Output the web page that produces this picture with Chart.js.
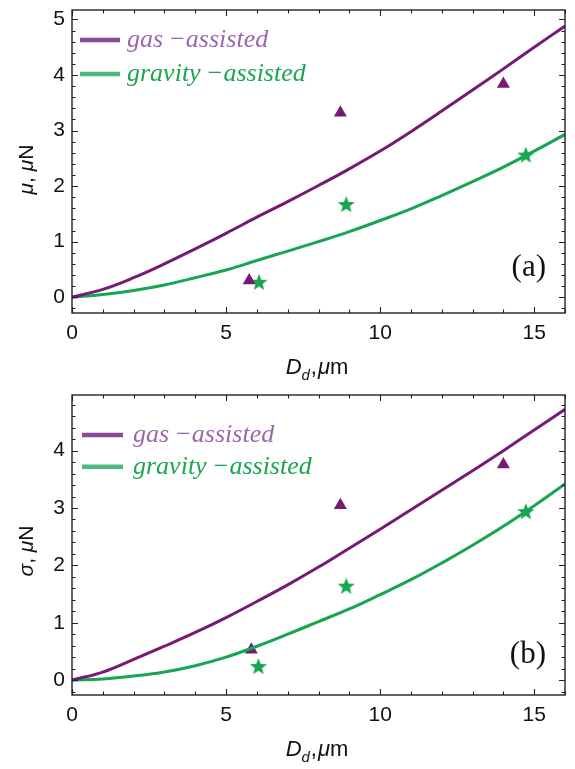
<!DOCTYPE html>
<html lang="en">
<head>
<meta charset="UTF-8">
<title>Forces vs droplet diameter</title>
<script src="https://cdn.jsdelivr.net/npm/chart.js"></script>
<style>
  body { margin: 0; background: #fff; }
  .panel { position: absolute; left: 0; width: 575px; }
  #panelA { top: 0; height: 385px; }
  #panelB { top: 385px; height: 384px; }
</style>
</head>
<body>
<div class="panel" id="panelA"><canvas id="chartA"></canvas></div>
<div class="panel" id="panelB"><canvas id="chartB"></canvas></div>
<script>
// D_d values where the fitted curves were read (um)
const curveX = [0, 1, 2, 3, 4, 5, 6, 7, 8, 9, 10, 11, 12, 13, 14, 15, 16];

// panel (a): mu, uN
const gasCurveA  = [0, 0.14, 0.35, 0.60, 0.87, 1.15, 1.44, 1.72, 2.01, 2.31, 2.63, 2.98, 3.35, 3.73, 4.11, 4.50, 4.88];
const gravCurveA = [0, 0.05, 0.12, 0.22, 0.35, 0.49, 0.66, 0.83, 1.00, 1.18, 1.38, 1.59, 1.83, 2.08, 2.34, 2.63, 2.93];
const gasPtsXA  = [5.75, 8.71, 14.0];
const gasPtsYA  = [0.30, 3.32, 3.84];
const gravPtsXA = [6.07, 8.9, 14.73];
const gravPtsYA = [0.26, 1.66, 2.55];

// panel (b): sigma, uN
const gasCurveB  = [0, 0.14, 0.36, 0.59, 0.83, 1.09, 1.37, 1.66, 1.97, 2.30, 2.63, 2.97, 3.31, 3.65, 4.00, 4.36, 4.72];
const gravCurveB = [0, 0.02, 0.07, 0.14, 0.25, 0.40, 0.59, 0.80, 1.02, 1.24, 1.49, 1.75, 2.04, 2.35, 2.68, 3.04, 3.42];
const gasPtsXB  = [5.82, 8.71, 14.0];
const gasPtsYB  = [0.53, 3.05, 3.76];
const gravPtsXB = [6.05, 8.9, 14.73];
const gravPtsYB = [0.23, 1.63, 2.93];

// axis ticks
const xTickValues  = [0, 5, 10, 15];
const yTickValuesA = [0, 1, 2, 3, 4, 5];
const yTickValuesB = [0, 1, 2, 3, 4];
const legendLabels = ['gas\u2009\u2212assisted', 'gravity\u2009\u2212assisted'];

const purple = '#761a76';
const green = '#17a64f';
const axisColor = '#222';
const sansFont = '"Liberation Sans", Arial, sans-serif';
const serifFont = '"Liberation Serif", "Times New Roman", serif';

// filled five-point star used as point style
function makeStar(color, r) {
    const c = document.createElement('canvas');
    const s = Math.ceil(r * 2 + 2);
    c.width = s; c.height = s;
    const g = c.getContext('2d');
    g.fillStyle = color;
    g.beginPath();
    for (let i = 0; i < 10; i++) {
        const rad = i % 2 === 0 ? r : r * 0.42;
        const a = -Math.PI / 2 + i * Math.PI / 5;
        g.lineTo(s / 2 + rad * Math.cos(a), s / 2 + rad * Math.sin(a));
    }
    g.closePath();
    g.fill();
    return c;
}
const starImg = makeStar(green, 9);

function pairs(xs, ys) {
    return xs.map((x, i) => ({ x: x, y: ys[i] }));
}

// draw a run of text pieces, some italic / subscript
function drawPieces(ctx, pieces, size, x, y, align) {
    const fontOf = p => (p.it ? 'italic ' : '') + (p.sub ? size * 0.68 : size) + 'px ' + sansFont;
    let total = 0;
    pieces.forEach(p => { ctx.font = fontOf(p); total += ctx.measureText(p.t).width + (p.gap || 0); });
    let cx = align === 'center' ? x - total / 2 : x;
    pieces.forEach(p => {
        ctx.font = fontOf(p);
        ctx.fillText(p.t, cx, y + (p.sub ? size * 0.28 : 0));
        cx += ctx.measureText(p.t).width + (p.gap || 0);
    });
}

const framePlugin = {
    id: 'frame',
    afterDatasetsDraw(chart, args, o) {
        const { ctx, chartArea: a } = chart;
        const x = chart.scales.x, y = chart.scales.y;
        ctx.save();
        ctx.strokeStyle = axisColor;
        ctx.lineWidth = 1.4;
        ctx.strokeRect(a.left, a.top, a.right - a.left, a.bottom - a.top);

        // inward ticks on all four sides
        ctx.lineWidth = 1.1;
        ctx.beginPath();
        for (let v = 0; v <= x.max + 1e-9; v += 1) {
            const len = xTickValues.includes(v) ? 6 : 3.5;
            const px = Math.round(x.getPixelForValue(v)) + 0.5;
            ctx.moveTo(px, a.bottom); ctx.lineTo(px, a.bottom - len);
            ctx.moveTo(px, a.top); ctx.lineTo(px, a.top + len);
        }
        for (let k = Math.ceil(y.min * 5); k <= Math.floor(y.max * 5); k++) {
            const len = k % 5 === 0 ? 6 : 3.5;
            const py = Math.round(y.getPixelForValue(k / 5)) + 0.5;
            ctx.moveTo(a.left, py); ctx.lineTo(a.left + len, py);
            ctx.moveTo(a.right, py); ctx.lineTo(a.right - len, py);
        }
        ctx.stroke();

        // legend
        const lg = o.legend;
        [purple, green].forEach((c, i) => {
            const ly = a.top + lg.rows[i];
            ctx.strokeStyle = i === 0 ? '#8a4a9a' : '#4cba7c';
            ctx.lineWidth = 4.5;
            ctx.beginPath();
            ctx.moveTo(lg.x0, ly); ctx.lineTo(lg.x1, ly);
            ctx.stroke();
            ctx.fillStyle = i === 0 ? '#9c66ae' : '#1aa64f';
            ctx.font = 'italic 26px ' + serifFont;
            ctx.textBaseline = 'alphabetic';
            ctx.textAlign = 'left';
            ctx.fillText(legendLabels[i], lg.tx, ly + 7);
        });

        // panel label
        ctx.fillStyle = '#111';
        ctx.font = '31px ' + serifFont;
        ctx.textAlign = 'right';
        ctx.fillText(o.panel, a.right - 19, a.bottom - o.panelLift);

        // axis titles
        ctx.textAlign = 'left';
        drawPieces(ctx, [
            { t: 'D', it: true }, { t: 'd', it: true, sub: true, gap: 1 },
            { t: ',', gap: 1 }, { t: '\u03bc', it: true }, { t: 'm' }
        ], 22, 317, a.bottom + 61, 'center');
        ctx.save();
        ctx.translate(32.5, (a.top + a.bottom) / 2 + o.yTitleShift);
        ctx.rotate(-Math.PI / 2);
        drawPieces(ctx, [
            { t: o.yVar, it: true }, { t: ', ' }, { t: '\u03bc', it: true }, { t: 'N' }
        ], 21, 0, 0, 'center');
        ctx.restore();
        ctx.restore();
    }
};

function makeChart(id, d) {
    return new Chart(document.getElementById(id), {
        type: 'scatter',
        data: {
            datasets: [
                { data: pairs(curveX, d.gasCurve), showLine: true, borderColor: purple, borderWidth: 3,
                  pointRadius: 0, tension: 0.4 },
                { data: pairs(curveX, d.gravCurve), showLine: true, borderColor: green, borderWidth: 3,
                  pointRadius: 0, tension: 0.4 },
                { data: pairs(d.gasX, d.gasY), pointStyle: 'triangle', pointRadius: 7.5,
                  backgroundColor: purple, borderWidth: 0 },
                { data: pairs(d.gravX, d.gravY), pointStyle: starImg, pointRadius: 9 }
            ]
        },
        options: {
            responsive: true,
            maintainAspectRatio: false,
            devicePixelRatio: 1,
            animation: false,
            layout: { padding: { left: 0, right: 8, top: d.top, bottom: 0 } },
            plugins: {
                legend: { display: false },
                tooltip: { enabled: false },
                frame: d.frame
            },
            scales: {
                x: {
                    type: 'linear', min: 0, max: 16,
                    afterBuildTicks: s => { s.ticks = xTickValues.map(v => ({ value: v })); },
                    afterFit: s => { s.height = d.xHeight; s.paddingLeft = 0; s.paddingRight = 0; },
                    grid: { display: false, drawTicks: false },
                    border: { display: false },
                    ticks: { padding: 8, color: '#111', maxRotation: 0, autoSkip: false,
                             font: { family: sansFont, size: 21 } }
                },
                y: {
                    type: 'linear', min: d.yMin, max: d.yMax,
                    afterBuildTicks: s => { s.ticks = d.yTicks.map(v => ({ value: v })); },
                    afterFit: s => { s.width = 72; s.paddingTop = 0; s.paddingBottom = 0; },
                    grid: { display: false, drawTicks: false },
                    border: { display: false },
                    ticks: { padding: 7, color: '#111', autoSkip: false,
                             font: { family: sansFont, size: 21 } }
                }
            }
        },
        plugins: [framePlugin]
    });
}

makeChart('chartA', {
    gasCurve: gasCurveA, gravCurve: gravCurveA,
    gasX: gasPtsXA, gasY: gasPtsYA, gravX: gravPtsXA, gravY: gravPtsYA,
    yMin: -0.285, yMax: 5.17, yTicks: yTickValuesA, top: 6, xHeight: 72,
    frame: { panel: '(a)', panelLift: 37, yVar: '\u03bc', yTitleShift: 8,
             legend: { x0: 80, x1: 120, tx: 127, rows: [30, 64] } }
});

makeChart('chartB', {
    gasCurve: gasCurveB, gravCurve: gravCurveB,
    gasX: gasPtsXB, gasY: gasPtsYB, gravX: gravPtsXB, gravY: gravPtsYB,
    yMin: -0.26, yMax: 4.97, yTicks: yTickValuesB, top: 5, xHeight: 74,
    frame: { panel: '(b)', panelLift: 32, yVar: '\u03c3', yTitleShift: 6,
             legend: { x0: 82, x1: 123, tx: 133, rows: [40, 71.7] } }
});
</script>
</body>
</html>
